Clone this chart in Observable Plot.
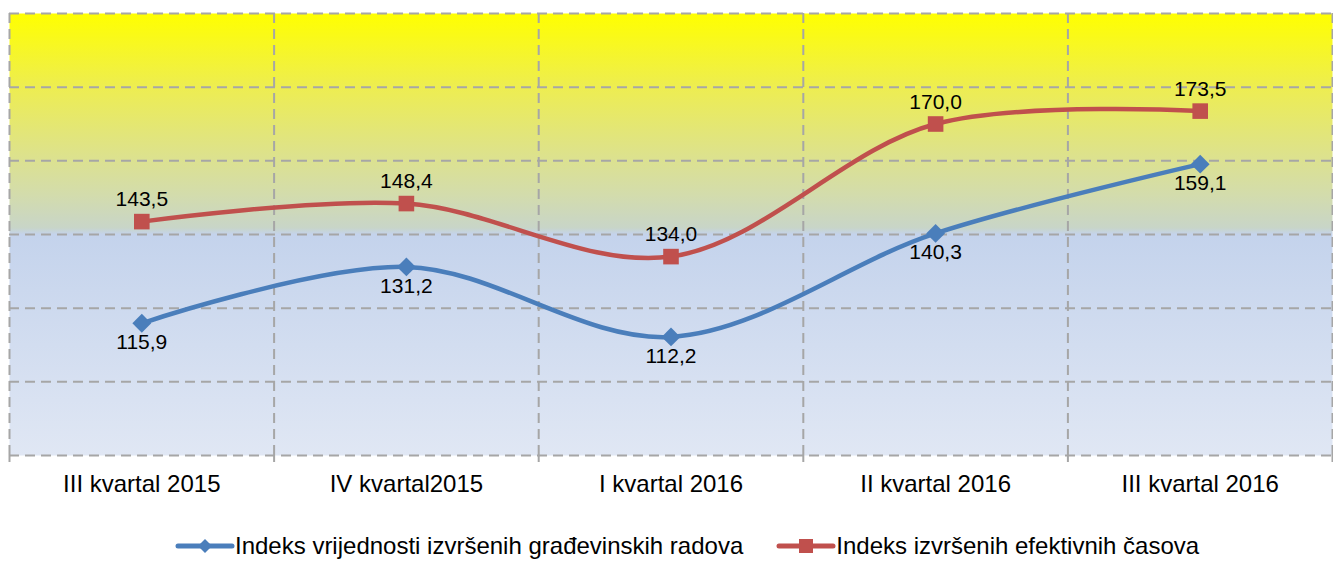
<!DOCTYPE html>
<html>
<head>
<meta charset="utf-8">
<script src="https://cdn.jsdelivr.net/npm/d3@7"></script>
<script src="https://cdn.jsdelivr.net/npm/@observablehq/plot@0.6"></script>
<style>
  html, body { margin: 0; padding: 0; background: #fff; }
  body { width: 1333px; height: 561px; overflow: hidden; font-family: "Liberation Sans", Arial, sans-serif; }
  #chart svg { display: block; }
  #legend { display: flex; justify-content: flex-start; align-items: center; height: 30px; margin-top: 16px; padding-left: 175px; font-size: 24px; line-height: 28px; color: #000; }
  .item { display: flex; align-items: center; white-space: nowrap; }
  .item svg { display: block; }
</style>
</head>
<body>
<div id="chart"></div>
<div id="legend"></div>
<script>
const categories = ["III kvartal 2015", "IV kvartal2015", "I kvartal 2016", "II kvartal 2016", "III kvartal 2016"];
const seriesNames = ["Indeks vrijednosti izvršenih građevinskih radova", "Indeks izvršenih efektivnih časova"];
const valuesGradjevinski = [115.9, 131.2, 112.2, 140.3, 159.1];
const valuesCasovi = [143.5, 148.4, 134.0, 170.0, 173.5];
const yTicks = [80, 100, 120, 140, 160, 180, 200];
const colors = ["#4a7ebb", "#c0504d"];

const rows = [];
categories.forEach((c, i) => {
  rows.push({i, series: seriesNames[0], value: valuesGradjevinski[i]});
  rows.push({i, series: seriesNames[1], value: valuesCasovi[i]});
});
const blue = rows.filter(d => d.series === seriesNames[0]);
const red = rows.filter(d => d.series === seriesNames[1]);
const boundaries = d3.range(categories.length + 1).map(k => k - 0.5);
const fmt = v => v.toFixed(1).replace(".", ",");

const defs = () => {
  const g = d3.create("svg:defs");
  const lg = g.append("linearGradient").attr("id", "bg").attr("x1", 0).attr("y1", 0).attr("x2", 0).attr("y2", 1);
  [["0%", "#ffff00"], ["17%", "#eded52"], ["32%", "#dde28c"], ["41%", "#d3dcac"], ["48.5%", "#c8d5c8"], ["50%", "#c4d3ec"], ["100%", "#e0e7f4"]]
    .forEach(([o, c]) => lg.append("stop").attr("offset", o).attr("stop-color", c));
  return g.node();
};

const gridStyle = {stroke: "#a6a6a6", strokeWidth: 2, strokeDasharray: "10,6", strokeOpacity: 1};

const chart = Plot.plot({
  width: 1333,
  height: 515,
  marginLeft: 9,
  marginRight: 1,
  marginTop: 13,
  marginBottom: 60,
  style: {fontFamily: "Liberation Sans, Arial, sans-serif", background: "transparent"},
  x: {type: "linear", domain: [-0.5, categories.length - 0.5], label: null},
  y: {domain: [80, 200], label: null, axis: null},
  marks: [
    defs,
    Plot.frame({fill: "url(#bg)", stroke: null}),
    Plot.ruleY(yTicks, gridStyle),
    Plot.ruleX(boundaries, gridStyle),
    Plot.axisX(boundaries, {tickSize: 7, tickFormat: () => "", stroke: "#a6a6a6", strokeWidth: 2, strokeOpacity: 1, label: null}),
    Plot.axisX(d3.range(categories.length), {tickSize: 0, tickPadding: 19, tickFormat: i => categories[i], fontSize: 24, fill: "#000", label: null}),
    Plot.line(blue, {x: "i", y: "value", stroke: colors[0], strokeWidth: 4.5, curve: "catmull-rom"}),
    Plot.line(red, {x: "i", y: "value", stroke: colors[1], strokeWidth: 4.5, curve: "catmull-rom"}),
    Plot.dot(blue, {x: "i", y: "value", symbol: "diamond2", r: 8.5, fill: colors[0], stroke: null}),
    Plot.dot(red, {x: "i", y: "value", symbol: "square", r: 8.8, fill: colors[1], stroke: null}),
    Plot.text(blue, {x: "i", y: "value", text: d => fmt(d.value), dy: 19, fontSize: 21, fill: "#000"}),
    Plot.text(red, {x: "i", y: "value", text: d => fmt(d.value), dy: -22, fontSize: 21, fill: "#000"})
  ]
});
document.getElementById("chart").appendChild(chart);

// Legend
const legend = d3.select("#legend");
const shapes = ["diamond", "square"];
seriesNames.forEach((name, k) => {
  const item = legend.append("div").attr("class", "item").style("margin-right", k === 0 ? "33px" : "0");
  const s = item.append("svg").attr("width", 60).attr("height", 20);
  s.append("line").attr("x1", 3).attr("x2", 57).attr("y1", 10).attr("y2", 10)
    .attr("stroke", colors[k]).attr("stroke-width", 5).attr("stroke-linecap", "round");
  if (shapes[k] === "diamond") {
    s.append("path").attr("d", "M30,3 L37,10 L30,17 L23,10 Z").attr("fill", colors[k]);
  } else {
    s.append("rect").attr("x", 23).attr("y", 3).attr("width", 14).attr("height", 14).attr("fill", colors[k]);
  }
  item.append("span").text(name);
});
</script>
</body>
</html>
